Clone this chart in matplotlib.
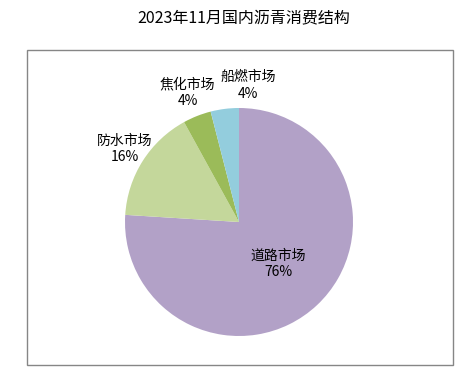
import matplotlib
matplotlib.use("Agg")
import matplotlib.pyplot as plt
import numpy as np
from matplotlib.patches import Rectangle

plt.rcParams['font.family'] = ['Noto Sans CJK SC', 'DejaVu Sans']

title = "2023年11月国内沥青消费结构"
categories = ["道路市场", "防水市场", "焦化市场", "船燃市场"]
values = [76, 16, 4, 4]
colors = ["#B2A1C7", "#C4D79B", "#9BBB59", "#93CDDD"]
# label placement (radial distance, angle offset in degrees)
label_dist = [0.50, 1.19, 1.22, 1.20]
label_dang = [0.0, 0.0, 0.0, -11.0]

W, H = 462, 377
fig = plt.figure(figsize=(W / 100, H / 100), dpi=100)

# outer border box
fig.patches.append(Rectangle((26.5 / W, (H - 365) / H), (452.5 - 26.5) / W, (365 - 50) / H,
                             transform=fig.transFigure, fill=False,
                             edgecolor="#868686", linewidth=1.0))

fig.text(243.5 / W, 1 - 19 / H, title, ha="center", va="center", fontsize=11.5, color="#000000")

cx, cy, r = 239, 222, 114
half = 150
ax = fig.add_axes([(cx - half) / W, (H - cy - half) / H, 2 * half / W, 2 * half / H])
wedges, _ = ax.pie(values, colors=colors, startangle=90, counterclock=False,
                   wedgeprops=dict(linewidth=0))
lim = half / r
ax.set_xlim(-lim, lim)
ax.set_ylim(-lim, lim)
ax.set_aspect("equal")
ax.axis("off")

for w, cat, v, d, da in zip(wedges, categories, values, label_dist, label_dang):
    ang = np.deg2rad((w.theta1 + w.theta2) / 2 + da)
    ax.text(d * np.cos(ang), d * np.sin(ang), f"{cat}\n{v}%", ha="center", va="center",
            fontsize=10, linespacing=1.2, color="#000000", clip_on=False)

fig.savefig("out.png", dpi=100)
